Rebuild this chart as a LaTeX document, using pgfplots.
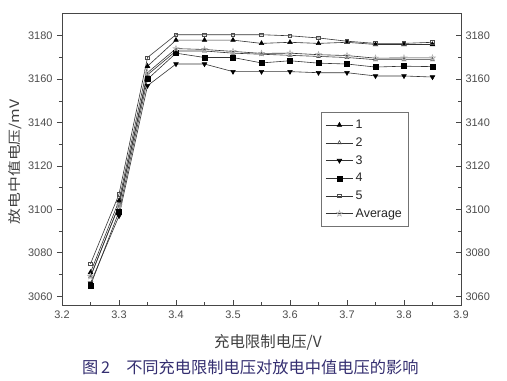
\documentclass[border=0pt]{standalone}
\usepackage{fontspec}
\setmainfont{Liberation Sans}
\newfontfamily\cjk{Noto Sans CJK SC}
\usepackage{pgfplots}
\pgfplotsset{compat=1.18}
\definecolor{capcol}{RGB}{52,46,112}
\definecolor{framecol}{RGB}{70,70,70}
\pgfdeclareplotmark{ostar}{%
 \pgfpathmoveto{\pgfpointpolar{90}{\pgfplotmarksize}}%
 \pgfpathlineto{\pgfpointpolar{126}{0.42\pgfplotmarksize}}%
 \pgfpathlineto{\pgfpointpolar{162}{\pgfplotmarksize}}%
 \pgfpathlineto{\pgfpointpolar{198}{0.42\pgfplotmarksize}}%
 \pgfpathlineto{\pgfpointpolar{234}{\pgfplotmarksize}}%
 \pgfpathlineto{\pgfpointpolar{270}{0.42\pgfplotmarksize}}%
 \pgfpathlineto{\pgfpointpolar{306}{\pgfplotmarksize}}%
 \pgfpathlineto{\pgfpointpolar{342}{0.42\pgfplotmarksize}}%
 \pgfpathlineto{\pgfpointpolar{18}{\pgfplotmarksize}}%
 \pgfpathlineto{\pgfpointpolar{54}{0.42\pgfplotmarksize}}%
 \pgfpathclose\pgfusepathqstroke}
\begin{document}
\begin{tikzpicture}
\pgfplotsset{
  base/.style={
    at={(0,0)}, anchor=south west,
    scale only axis, width=399bp, height=292bp,
    xmin=3.2, xmax=3.9, ymin=3056, ymax=3190.5,
    xtick={3.2,3.3,3.4,3.5,3.6,3.7,3.8,3.9},
    ytick={3060,3080,3100,3120,3140,3160,3180},
    minor x tick num=1, minor y tick num=1,
    major tick length=5bp, minor tick length=3bp,
    axis line style={draw=framecol, line width=0.9bp},
    every tick/.style={framecol, line width=0.8bp},
    tick label style={font=\fontsize{11}{11}\selectfont, text=black!70},
    /pgf/number format/assume math mode=true,
    xticklabel style={/pgf/number format/fixed, /pgf/number format/fixed zerofill, /pgf/number format/precision=1},
    yticklabel style={/pgf/number format/fixed, /pgf/number format/set thousands separator={}},
  }
}
\begin{axis}[base,
  tick align=inside,
  xtick pos=bottom, ytick pos=right, yticklabel pos=right,
  xticklabel style={yshift=-2bp},
  yticklabel style={xshift=1bp},
  clip=false,
  legend cell align=left,
  legend image code/.code={\draw[mark repeat=2,mark phase=2,#1] plot coordinates {(0bp,0bp) (13.5bp,0bp) (27bp,0bp)};},
  legend style={at={(axis cs:3.655,3145)}, anchor=north west, draw=black!55, line width=0.6bp,
    font=\fontsize{12.5}{13}\selectfont, text=black!85, row sep=3.6bp, inner xsep=4bp, inner ysep=6bp,
    nodes={inner xsep=2.5bp}},
  every axis plot/.append style={line width=0.6bp, black!80},
]
\addplot[mark=triangle*, mark size=2.6bp, mark options={black, solid}] coordinates {
 (3.25,3071) (3.30,3104) (3.35,3166) (3.40,3178) (3.45,3178) (3.50,3178) (3.55,3176.5)
 (3.60,3177) (3.65,3176.5) (3.70,3177) (3.75,3176) (3.80,3176) (3.85,3176)};
\addlegendentry{1}
\addplot[mark=triangle, mark size=2.2bp, mark options={black!70, solid}] coordinates {
 (3.25,3069) (3.30,3102) (3.35,3162) (3.40,3173) (3.45,3173) (3.50,3172) (3.55,3171.5)
 (3.60,3171) (3.65,3170.5) (3.70,3170) (3.75,3169) (3.80,3169) (3.85,3169)};
\addlegendentry{2}
\addplot[mark=triangle*, mark size=2.6bp, mark options={black, solid, rotate=180}] coordinates {
 (3.25,3066) (3.30,3097) (3.35,3157) (3.40,3167) (3.45,3167) (3.50,3163.5) (3.55,3163.5)
 (3.60,3163.5) (3.65,3163) (3.70,3163) (3.75,3161.5) (3.80,3161.5) (3.85,3161)};
\addlegendentry{3}
\addplot[mark=square*, mark size=2.5bp, mark options={black, solid}] coordinates {
 (3.25,3065) (3.30,3099) (3.35,3160) (3.40,3172) (3.45,3170) (3.50,3170) (3.55,3167.5)
 (3.60,3168.5) (3.65,3167.4) (3.70,3167) (3.75,3165.6) (3.80,3166) (3.85,3165.8)};
\addlegendentry{4}
\addplot[mark=square, mark size=1.7bp, mark options={black!70, solid}] coordinates {
 (3.25,3075) (3.30,3107) (3.35,3170) (3.40,3180.5) (3.45,3180.5) (3.50,3180.5) (3.55,3180.5)
 (3.60,3180) (3.65,3179) (3.70,3177.5) (3.75,3176.5) (3.80,3176.5) (3.85,3177)};
\addlegendentry{5}
\addplot[mark=ostar, mark size=3bp, mark options={black!30, solid}] coordinates {
 (3.25,3069.2) (3.30,3101.8) (3.35,3163) (3.40,3174.1) (3.45,3173.7) (3.50,3172.8) (3.55,3171.9)
 (3.60,3172) (3.65,3171.3) (3.70,3170.9) (3.75,3169.7) (3.80,3169.8) (3.85,3169.8)};
\addlegendentry{Average}
\node[rotate=90, font=\cjk\fontsize{13}{13}\selectfont, text=black!75] at (axis description cs:-0.118,0.49) {\scalebox{1.22}[1]{放电中值电压/mV}};
\node[font=\cjk\fontsize{15.5}{15.5}\selectfont, text=black!75] at (axis description cs:0.516,-0.127) {充电限制电压/V};
\node[font=\cjk\fontsize{16.3}{16.3}\selectfont, text=capcol] at (axis description cs:0.472,-0.212) {图\,2\hspace{1em}不同充电限制电压对放电中值电压的影响};
\end{axis}
\begin{axis}[base,
  tick align=outside,
  axis x line=none, axis y line*=left,
  ytick pos=left,
  yticklabel style={xshift=-1bp},
]
\addplot[draw=none] coordinates {(3.3,3100)};
\end{axis}
\pgfresetboundingbox
\path[use as bounding box] (-62bp,-76bp) rectangle (445bp,305bp);
\end{tikzpicture}
\end{document}
